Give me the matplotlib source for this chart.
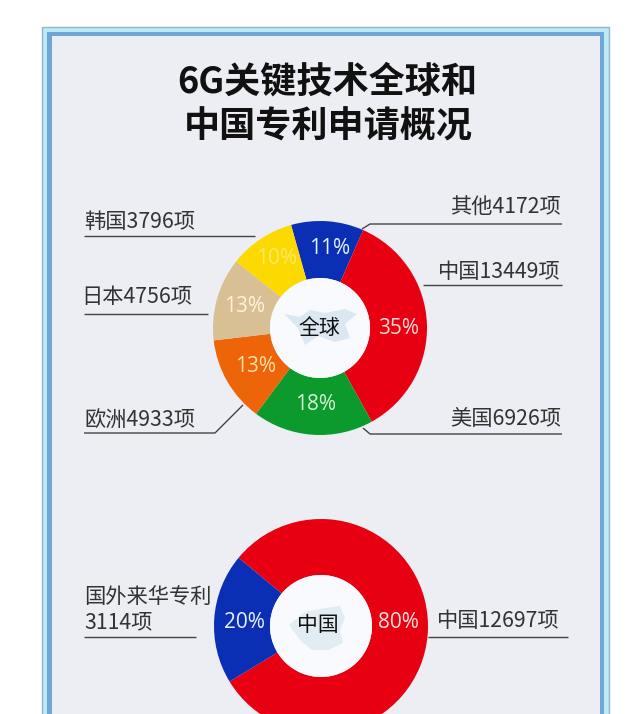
import numpy as np
import matplotlib
matplotlib.use("Agg")
import matplotlib.pyplot as plt
from matplotlib.patches import Rectangle, Circle, Polygon

plt.rcParams['font.family'] = ['Noto Sans CJK SC', 'DejaVu Sans']

W = 640
H = 714

# global patents, clockwise from the top
global_names = ["其他", "中国", "美国", "欧洲", "日本", "韩国"]
global_values = [4172, 13449, 6926, 4933, 4756, 3796]
global_pct = ["11%", "35%", "18%", "13%", "13%", "10%"]
global_colors = ["#0a2fb5", "#e60012", "#0b9a2b", "#ee6408", "#d9bf94", "#fcd900"]

# china patents, clockwise from the top
china_names = ["中国", "国外来华专利"]
china_values = [12697, 3114]
china_pct = ["80%", "20%"]
china_colors = ["#e60012", "#0a2fb5"]


def py(y):
    # picture rows run downwards, the axes upwards
    return H - y


def donut(ax, values, colors, cx, cy, start, hole):
    ax.pie(values, colors=colors, center=(cx, py(cy)), radius=107,
           startangle=start, counterclock=False, frame=True,
           wedgeprops={"width": 107 - hole, "linewidth": 0})
    ax.add_patch(Circle((cx, py(cy)), hole, fc="#f8fafd", ec="none", zorder=3))


def pct(ax, x, y, s, c):
    ax.text(x, py(y + 2), s, color=c, fontsize=15, fontweight="medium", ha="center", va="center",
            family=["Open Sans", "DejaVu Sans"], zorder=5)


def label(ax, x, y, s, ha="left", size=15.3):
    ax.text(x, py(y + 2), s, fontsize=size, color="#333333", ha=ha, va="center")


def leader(ax, xs, ys):
    ax.plot(xs, [py(v) for v in ys], color="#444444", lw=1.0, solid_capstyle="butt")


def blob(ax, pts, c):
    ax.add_patch(Polygon([(x, py(y)) for x, y in pts], fc=c, ec="none", zorder=4))


fig = plt.figure(figsize=(W / 100, H / 100), dpi=100, facecolor="white")
ax = fig.add_axes([0, 0, 1, 1])

# frame layers
ax.add_patch(Rectangle((42, -5), 567, py(27) + 5, fc="#bfe9f5", ec="#8fb8c4", lw=1))
ax.add_patch(Rectangle((47, -5), 557, py(32) + 5, fc="#6fa6d8", ec="none"))
ax.add_patch(Rectangle((52, -5), 548, py(36) + 5, fc="#eceef3", ec="none"))

ax.text(327, py(82), "6G关键技术全球和", fontsize=26, fontweight="bold", color="#111111",
        ha="center", va="center")
ax.text(328, py(127), "中国专利申请概况", fontsize=26, fontweight="bold", color="#111111",
        ha="center", va="center")

donut(ax, global_values, global_colors, 320, 328, 105.7, 50)
donut(ax, china_values, china_colors, 321, 626, 140.4, 51)

pct(ax, 330, 247, global_pct[0], "#e4f2ff")
pct(ax, 399, 326, global_pct[1], "#ffdcd2")
pct(ax, 316, 403, global_pct[2], "#d5f5d5")
pct(ax, 256, 365, global_pct[3], "#ffe0a8")
pct(ax, 245, 305, global_pct[4], "#fff3dc")
pct(ax, 277, 257, global_pct[5], "#ffe866")
pct(ax, 398, 620, china_pct[0], "#ffe4dc")
pct(ax, 244, 620, china_pct[1], "#eaf2ff")

# faint maps behind the centre labels
blob(ax, [(284, 314), (300, 317), (310, 310), (325, 313), (345, 309), (357, 314),
          (345, 324), (350, 338), (335, 342), (318, 336), (305, 345), (298, 328)], "#dbe8f1")
blob(ax, [(289, 625), (305, 612), (325, 608), (340, 606), (345, 618), (340, 630),
          (343, 643), (328, 650), (312, 650), (300, 640)], "#e2ecf3")
ax.text(319, py(328), "全球", fontsize=15, fontweight="medium", color="#111111",
        ha="center", va="center", zorder=5)
ax.text(318, py(625), "中国", fontsize=15, fontweight="medium", color="#111111",
        ha="center", va="center", zorder=5)

# labels, top donut
label(ax, 84, 220, "韩国3796项")
label(ax, 81, 295, "日本4756项")
label(ax, 84, 418, "欧洲4933项")
label(ax, 561, 206, "其他4172项", ha="right")
label(ax, 561, 270, "中国13449项", ha="right")
label(ax, 561, 417, "美国6926项", ha="right")
leader(ax, [84, 255], [236, 236])
leader(ax, [84, 208], [314, 314])
leader(ax, [84, 215, 243], [433, 433, 405])
leader(ax, [362, 370, 562], [229, 224, 224])
leader(ax, [423, 562], [285, 285])
leader(ax, [363, 370, 562], [428, 434, 434])

# labels, bottom donut
label(ax, 84, 595, "国外来华专利")
label(ax, 84, 620, "3114项")
label(ax, 437, 619, "中国12697项")
leader(ax, [84, 196], [637, 637])
leader(ax, [428, 568], [637, 637])

ax.set_xlim(0, W)
ax.set_ylim(0, H)
ax.set_aspect("auto")
ax.axis("off")

fig.savefig("out.png", dpi=100)
